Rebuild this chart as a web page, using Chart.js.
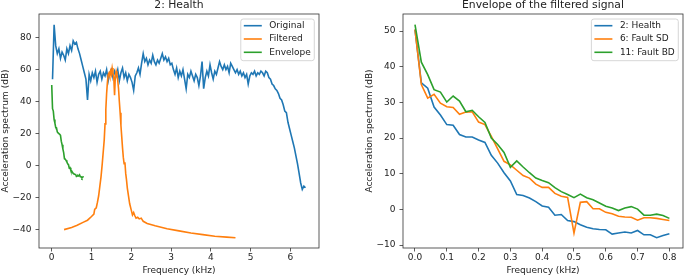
<!DOCTYPE html>
<html>
<head>
<meta charset="utf-8">
<script src="https://cdn.jsdelivr.net/npm/chart.js@4.4.0/dist/chart.umd.min.js"></script>
<style>
  html, body { margin: 0; padding: 0; background: #fff; }
  #esquerda { position: absolute; left: 0; top: 0; }
  #direita { position: absolute; left: 364px; top: 0; }
</style>
</head>
<body>
<canvas id="esquerda" width="330" height="277"></canvas>
<canvas id="direita" width="321" height="277"></canvas>
<script>
// Spectrum of signal 2 (kHz, dB)
var freqOriginal = [
  0.02, 0.06, 0.10, 0.14, 0.18, 0.22, 0.26, 0.30, 0.34, 0.38,
  0.42, 0.46, 0.50, 0.54, 0.58, 0.62, 0.66, 0.70, 0.74, 0.78,
  0.82, 0.86, 0.90, 0.94, 0.98, 1.02, 1.06, 1.10, 1.14, 1.18,
  1.22, 1.26, 1.30, 1.34, 1.38, 1.42, 1.46, 1.50, 1.54, 1.58,
  1.62, 1.66, 1.70, 1.74, 1.78, 1.82, 1.86, 1.90, 1.94, 1.98,
  2.02, 2.06, 2.10, 2.14, 2.18, 2.22, 2.26, 2.30, 2.34, 2.38,
  2.42, 2.46, 2.50, 2.54, 2.58, 2.62, 2.66, 2.70, 2.74, 2.78,
  2.82, 2.86, 2.90, 2.94, 2.98, 3.02, 3.06, 3.10, 3.14, 3.18,
  3.22, 3.26, 3.30, 3.34, 3.38, 3.42, 3.46, 3.50, 3.54, 3.58,
  3.62, 3.66, 3.70, 3.74, 3.78, 3.82, 3.86, 3.90, 3.94, 3.98,
  4.02, 4.06, 4.10, 4.14, 4.18, 4.22, 4.26, 4.30, 4.34, 4.38,
  4.42, 4.46, 4.50, 4.54, 4.58, 4.62, 4.66, 4.70, 4.74, 4.78,
  4.82, 4.86, 4.90, 4.94, 4.98, 5.02, 5.06, 5.10, 5.14, 5.18,
  5.22, 5.26, 5.30, 5.34, 5.38, 5.42, 5.46, 5.50, 5.54, 5.58,
  5.62, 5.66, 5.70, 5.74, 5.78, 5.82, 5.86, 5.90, 5.94, 5.98,
  6.02, 6.06, 6.10, 6.14, 6.18, 6.22, 6.26, 6.30, 6.34, 6.38
];
var original = [
  54, 88, 75, 70, 73, 67, 71, 69, 66, 73,
  70, 75, 72, 78, 76, 77, 73, 70, 66, 62,
  58, 54, 41, 57, 53, 58, 55, 59, 52, 57,
  59, 54, 58, 56, 60, 53, 58, 60, 55, 59,
  56, 60, 53, 58, 61, 55, 58, 53, 57, 55,
  52, 47, 56, 58, 61, 57, 64, 70, 65, 67,
  63, 66, 64, 69, 65, 63, 66, 64, 67, 70,
  66, 68, 65, 67, 63, 64, 60, 57, 61, 55,
  59, 56, 60, 54, 48, 57, 55, 59, 56, 53,
  57, 55, 50, 56, 65, 48, 55, 59, 56, 63,
  58, 54, 59, 57, 61, 65, 62, 60, 63, 60,
  62, 58, 64, 62, 60, 58, 60, 57, 59, 56,
  58, 55, 57, 51, 56, 58, 57, 59, 56, 58,
  57, 59, 58, 56, 59, 58, 55, 54, 51, 50,
  48, 47, 45, 42, 41, 38, 34, 33, 27, 23,
  19, 15, 11, 6, 1, -5, -11, -15, -13, -14
];

var freqFiltrado = [
  0.31, 0.50, 0.64, 0.80, 0.90, 1.00, 1.06, 1.08, 1.12, 1.15,
  1.18, 1.21, 1.24, 1.27, 1.30, 1.32, 1.34, 1.36, 1.38, 1.40,
  1.42, 1.44, 1.46, 1.48, 1.50, 1.52, 1.54, 1.56, 1.58, 1.60,
  1.62, 1.64, 1.66, 1.68, 1.70, 1.72, 1.74, 1.76, 1.78, 1.80,
  1.82, 1.84, 1.86, 1.88, 1.90, 1.93, 1.96, 2.00, 2.03, 2.06,
  2.09, 2.12, 2.16, 2.20, 2.25, 2.30, 2.40, 2.60, 2.90, 3.20,
  3.50, 3.80, 4.10, 4.40, 4.62
];
var filtrado = [
  -40.2, -38.8, -37.5, -35.5, -34.3, -32, -30.5, -27.5, -26.5, -23,
  -19, -13, -7, 1, 10, 16, 26, 35, 45, 52,
  57, 58, 56, 59, 57, 61, 58, 55, 44, 56,
  59, 57, 53, 48, 40, 33, 25, 18, 11, 5,
  1, 2, -5, -9, -14, -19, -24, -28, -31, -29.5,
  -31.5, -33, -32.5, -33.5, -33, -35, -36.3, -37.8, -39.6, -41,
  -42.3, -43.3, -44.3, -44.9, -45.3
];

// Envelope spectra (kHz, dB)
var freqEnvelope = [
  0.00, 0.02, 0.04, 0.06, 0.08, 0.10, 0.12, 0.14, 0.16, 0.18,
  0.20, 0.22, 0.24, 0.26, 0.28, 0.30, 0.32, 0.34, 0.36, 0.38,
  0.40, 0.42, 0.44, 0.46, 0.48, 0.50, 0.52, 0.54, 0.56, 0.58,
  0.60, 0.62, 0.64, 0.66, 0.68, 0.70, 0.72, 0.74, 0.76, 0.78,
  0.80
];
var health = [
  50.4, 35.5, 34, 28.7, 26.5, 23.8, 23.6, 21, 20.3, 20.3,
  19.5, 18.8, 15.2, 13, 10.3, 8, 4.2, 3.9, 3.2, 2.2,
  1.0, 0.6, -1.6, -1.4, -3.1, -3.4, -4.3, -5, -5.4, -5.6,
  -5.7, -6.9, -6.6, -6.3, -6.6, -5.9, -7.1, -7.1, -7.9, -7.3,
  -6.8
];
var faultSD = [
  50.5, 35, 31.2, 32.3, 29.8, 28.8, 28.6, 26.7, 27.3, 27.4,
  24.5, 23.8, 20.5, 17, 13.5, 12.5, 11, 9.5, 8.8, 7.1,
  6.2, 6.2, 4.5, 3.7, 3.4, -6.6, 2.0, 2.2, 0.2, 0.2,
  -0.8, -1.2, -1.9, -2.1, -2.2, -3.0, -2.3, -2.3, -2.5, -2.8,
  -3.1
];
var faultBD = [
  51.8, 41.3, 37.8, 33.6, 32.9, 30.1, 31.8, 30.4, 27.4, 27.8,
  26, 24.4, 20, 18.2, 16, 11.8, 13.6, 11.9, 10.3, 8.8,
  8.1, 7.5, 6.1, 5, 4.2, 3.3, 4.3, 3.3, 2.7, 1.8,
  0.9, 0.4, -0.3, 0.4, 0.8, 0.1, -1.6, -1.6, -1.3, -1.7,
  -2.5
];

// tick labels
var ticksFreqEsq = [0, 1, 2, 3, 4, 5, 6];
var ticksDbEsq = [-40, -20, 0, 20, 40, 60, 80];
var ticksFreqDir = [0, 0.1, 0.2, 0.3, 0.4, 0.5, 0.6, 0.7, 0.8];
var ticksDbDir = [-10, 0, 10, 20, 30, 40, 50];

var AZUL = '#1f77b4', LARANJA = '#ff7f0e', VERDE = '#2ca02c';
var FONTE = { family: '"DejaVu Sans", sans-serif', size: 9 };

function pares(xs, ys) {
  return xs.map((x, i) => ({ x: x, y: ys[i] }));
}

function serie(label, xs, ys, cor, ordem) {
  return {
    label: label,
    data: pares(xs, ys),
    borderColor: cor,
    backgroundColor: cor,
    borderWidth: 1.6,
    pointRadius: 0,
    tension: 0,
    fill: false,
    order: ordem
  };
}

function menos(txt) {
  return String(txt).replace('-', '\u2212');
}

function escala(min, max, marcas, titulo, formato, vertical) {
  return {
    type: 'linear',
    min: min,
    max: max,
    afterBuildTicks: s => { s.ticks = marcas.map(v => ({ value: v })); },
    afterFit: s => { if (vertical) s.width = 39; else s.height = 29; },
    grid: { drawOnChartArea: false, drawTicks: true, tickLength: 3.5, tickWidth: 0.8, tickColor: '#333' },
    border: { display: false },
    ticks: {
      color: '#222', font: FONTE, padding: vertical ? 4 : 1,
      maxRotation: 0, autoSkip: false,
      callback: v => menos(formato(v))
    },
    title: {
      display: true, text: titulo, color: '#222', font: FONTE,
      padding: vertical ? { top: 0, bottom: 0 } : { top: 0, bottom: 1 }
    }
  };
}

// frame on all four sides
var moldura = {
  id: 'moldura',
  afterDatasetsDraw(chart) {
    var ctx = chart.ctx, a = chart.chartArea;
    ctx.save();
    ctx.strokeStyle = '#333';
    ctx.lineWidth = 0.8;
    ctx.strokeRect(a.left, a.top, a.right - a.left, a.bottom - a.top);
    ctx.restore();
  }
};

// legend box inside the plot, upper right
var legenda = {
  id: 'legenda',
  afterDatasetsDraw(chart) {
    var ctx = chart.ctx, a = chart.chartArea;
    var itens = chart.data.datasets;
    ctx.save();
    ctx.font = '9px "DejaVu Sans"';
    var maior = Math.max(...itens.map(d => ctx.measureText(d.label).width));
    var w = 3 + 18 + 7.5 + maior + 3.5;
    var h = 41.7;
    var x = a.right - 4.7 - w;
    var y = a.top + 5;
    ctx.beginPath();
    ctx.roundRect(x, y, w, h, 2.5);
    ctx.fillStyle = 'rgba(255,255,255,0.8)';
    ctx.fill();
    ctx.strokeStyle = '#cccccc';
    ctx.lineWidth = 0.8;
    ctx.stroke();
    itens.forEach((d, i) => {
      var cy = y + 6.7 + i * 13.3;
      ctx.beginPath();
      ctx.moveTo(x + 3, cy);
      ctx.lineTo(x + 21, cy);
      ctx.strokeStyle = d.borderColor;
      ctx.lineWidth = 1.6;
      ctx.stroke();
      ctx.fillStyle = '#222';
      ctx.textBaseline = 'middle';
      ctx.fillText(d.label, x + 28.5, cy);
    });
    ctx.restore();
  }
};

function titulo(texto) {
  return {
    display: true, text: texto, fullSize: false, color: '#222',
    font: { family: '"DejaVu Sans", sans-serif', size: 10.8, weight: 'normal', lineHeight: 1 },
    padding: { top: 0, bottom: 3.2 }
  };
}

// left chart
new Chart(document.getElementById('esquerda'), {
  type: 'line',
  data: {
    datasets: [
      serie('Original', freqOriginal, original, AZUL, 3),
      serie('Filtered', freqFiltrado, filtrado, LARANJA, 2),
      serie('Envelope', freqEnvelope, health, VERDE, 1)
    ]
  },
  options: {
    responsive: false,
    animation: false,
    events: [],
    layout: { padding: { left: 0, right: 11, top: 0, bottom: 0 } },
    scales: {
      x: escala(-0.32, 6.72, ticksFreqEsq, 'Frequency (kHz)', v => v.toFixed(0), false),
      y: escala(-51.7, 94.8, ticksDbEsq, 'Acceleration spectrum (dB)', v => v.toFixed(0), true)
    },
    plugins: {
      legend: { display: false },
      tooltip: { enabled: false },
      title: titulo('2: Health')
    }
  },
  plugins: [moldura, legenda]
});

// right chart
new Chart(document.getElementById('direita'), {
  type: 'line',
  data: {
    datasets: [
      serie('2: Health', freqEnvelope, health, AZUL, 3),
      serie('6: Fault SD', freqEnvelope, faultSD, LARANJA, 2),
      serie('11: Fault BD', freqEnvelope, faultBD, VERDE, 1)
    ]
  },
  options: {
    responsive: false,
    animation: false,
    events: [],
    layout: { padding: { left: 0, right: 2, top: 0, bottom: 0 } },
    scales: {
      x: escala(-0.0377, 0.8428, ticksFreqDir, 'Frequency (kHz)', v => v.toFixed(1), false),
      y: escala(-10.8, 54.8, ticksDbDir, 'Acceleration spectrum (dB)', v => v.toFixed(0), true)
    },
    plugins: {
      legend: { display: false },
      tooltip: { enabled: false },
      title: titulo('Envelope of the filtered signal')
    }
  },
  plugins: [moldura, legenda]
});
</script>
</body>
</html>
